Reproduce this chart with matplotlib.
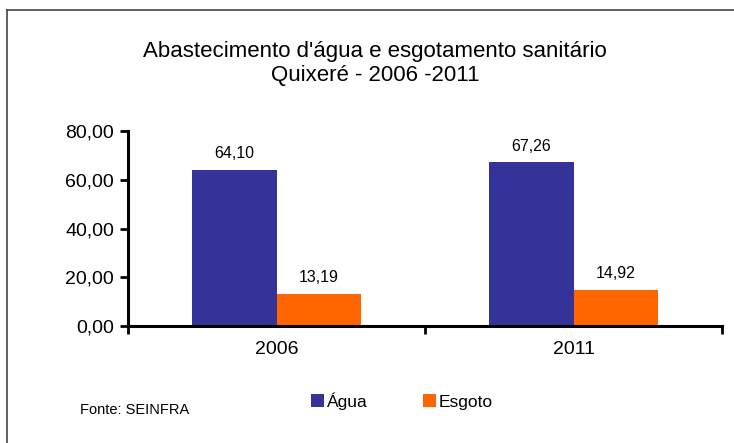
import matplotlib.pyplot as plt
from matplotlib.lines import Line2D
import numpy as np

plt.rcParams['font.family'] = ['Liberation Sans', 'DejaVu Sans']

# dados
anos = ["2006", "2011"]
agua = [64.10, 67.26]
esgoto = [13.19, 14.92]
series = ["Água", "Esgoto"]
cores = ["#333399", "#FF6600"]

W, H = 734, 443
fig = plt.figure(figsize=(W / 100, H / 100), dpi=100)

# moldura (esquerda e topo)
fig.add_artist(Line2D([7 / W, 7 / W], [0, 1 - 10 / H], color="#444444", lw=1.2))
fig.add_artist(Line2D([7 / W, 1], [1 - 10 / H, 1 - 10 / H], color="#444444", lw=1.2))

ax = fig.add_axes([128 / W, 1 - 326 / H, (722 - 128) / W, (326 - 131) / H])

x = np.arange(len(anos))
largura = 0.286
b1 = ax.bar(x - largura / 2, agua, largura, color=cores[0], label=series[0])
b2 = ax.bar(x + largura / 2, esgoto, largura, color=cores[1], label=series[1])

for barras in (b1, b2):
    for b in barras:
        v = b.get_height()
        ax.text(b.get_x() + b.get_width() / 2, v + 3.5, f"{v:.2f}".replace(".", ","),
                ha="center", va="bottom", fontsize=11.5)

ax.set_xlim(-0.5, 1.5)
ax.set_ylim(0, 80)
ax.set_yticks([0, 20, 40, 60, 80])
ax.set_yticklabels([f"{v:.2f}".replace(".", ",") for v in [0, 20, 40, 60, 80]], fontsize=14)
ax.set_xticks([-0.5, 0.5, 1.5])
ax.set_xticklabels([])
ax.set_xticks(x, minor=True)
ax.set_xticklabels(anos, minor=True, fontsize=14)
ax.tick_params(axis="x", which="minor", length=0, pad=11)
ax.tick_params(axis="x", which="major", length=6, width=2, direction="out")
ax.tick_params(axis="y", length=6, width=2, direction="out", pad=4)

for s in ("top", "right"):
    ax.spines[s].set_visible(False)
for s in ("left", "bottom"):
    ax.spines[s].set_linewidth(2.2)

fig.text(375 / W, 1 - 51 / H, "Abastecimento d'água e esgotamento sanitário",
         ha="center", va="center", fontsize=16)
fig.text(375 / W, 1 - 75 / H, "Quixeré - 2006 -2011",
         ha="center", va="center", fontsize=16)

fig.legend(handles=[b1, b2], labels=series, loc="center", bbox_to_anchor=(402 / W, 1 - 401 / H),
           ncol=2, frameon=False, fontsize=12.5, handlelength=0.75, handleheight=0.75,
           handletextpad=0.15, columnspacing=3.2)

fig.text(80 / W, 1 - 410 / H, "Fonte: SEINFRA", ha="left", va="center", fontsize=10.5)

fig.savefig("out.png", dpi=100)
